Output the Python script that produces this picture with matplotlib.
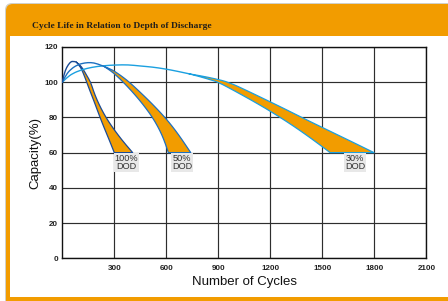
import numpy as np
import matplotlib
matplotlib.use('Agg')
import matplotlib.pyplot as plt
from matplotlib.patches import FancyBboxPatch, Rectangle, PathPatch
from matplotlib.path import Path

# Cycle life curves (cycles, capacity %)
# inner = left edge of each band, outer = right edge (starts on the inner curve)
dod100_inner_x = [0, 10, 25, 45, 60, 80, 100, 120, 141, 160, 180, 199, 218, 238, 259, 280, 300]
dod100_inner_y = [100, 104.5, 108.5, 111.3, 112, 111.5, 109.5, 105.5, 100, 95, 90, 85, 80, 75, 70, 65, 60]
dod100_outer_x = [80, 100, 120, 140, 164, 180, 200, 224, 252, 285, 322, 362, 406]
dod100_outer_y = [111.5, 110, 107.5, 104, 100, 95, 90, 85, 80, 75, 70, 65, 60]

dod50_inner_x = [0, 20, 50, 90, 130, 165, 200, 240, 280, 315, 352, 400, 444, 484, 520, 550, 575, 595, 612]
dod50_inner_y = [100, 104, 107.5, 110, 111, 111.2, 110.6, 109, 106.5, 103.5, 100, 95, 90, 85, 80, 75, 70, 65, 60]
dod50_outer_x = [240, 280, 320, 355, 387, 442, 495, 545, 592, 634, 672, 707, 741]
dod50_outer_y = [109, 107.5, 105, 102.5, 100, 95, 90, 85, 80, 75, 70, 65, 60]

dod30_inner_x = [0, 25, 60, 110, 170, 240, 310, 380, 450, 520, 590, 660, 730, 800, 860, 900,
                 995, 1087, 1175, 1257, 1335, 1408, 1478, 1545]
dod30_inner_y = [100, 102.5, 105, 107, 108.5, 109.4, 109.8, 109.9, 109.2, 108.6, 107.6, 106.3, 104.8,
                 103, 101.2, 100, 95, 90, 85, 80, 75, 70, 65, 60]
dod30_outer_x = [730, 800, 880, 960, 1070, 1175, 1280, 1381, 1485, 1590, 1695, 1798]
dod30_outer_y = [104.8, 103.6, 102, 100, 95, 90, 85, 80, 75, 70, 65, 60]

dod_labels = ['100%\nDOD', '50%\nDOD', '30%\nDOD']
label_x = [368, 691, 1688]

x_ticks = [300, 600, 900, 1200, 1500, 1800, 2100]
y_ticks = [0, 20, 40, 60, 80, 100, 120]

orange = '#f29c00'
band_colors = ['#1b4b96', '#1e70c0', '#1ba0e0']


def smooth_path(xs, ys):
    # quadratic bezier through midpoints, points act as control points
    pts = list(zip(xs, ys))
    verts = [pts[0]]
    codes = [Path.LINETO]
    for i in range(1, len(pts) - 1):
        mid = ((pts[i][0] + pts[i + 1][0]) / 2, (pts[i][1] + pts[i + 1][1]) / 2)
        if i == len(pts) - 2:
            mid = pts[-1]
        verts += [pts[i], mid]
        codes += [Path.CURVE3, Path.CURVE3]
    return verts, codes


fig = plt.figure(figsize=(4.48, 3.01), dpi=100)

# frame: grey shadow, orange bar and left/bottom strips, white panel
tr = fig.dpi_scale_trans
fig.patches.append(FancyBboxPatch((0.05, -0.2), 4.8, 3.18, boxstyle='round,pad=0,rounding_size=0.07',
                                  transform=tr, facecolor='#d0d0c8', edgecolor='none', zorder=-3))
fig.patches.append(FancyBboxPatch((0.06, -0.2), 4.8, 3.17, boxstyle='round,pad=0,rounding_size=0.07',
                                  transform=tr, facecolor=orange, edgecolor='none', zorder=-2))
fig.patches.append(Rectangle((0.10, 0.04), 4.6, 2.61, transform=tr,
                             facecolor='white', edgecolor='none', zorder=-1))
fig.text(0.32, 2.755, 'Cycle Life in Relation to Depth of Discharge', transform=tr,
         family='Liberation Serif', weight='bold', fontsize=6.8, color='#231f1a', va='center')

ax = fig.add_axes([0.139, 0.1419, 0.8127, 0.702])
ax.set_zorder(2)
ax.patch.set_alpha(0)
ax.set_xlim(0, 2100)
ax.set_ylim(0, 120)
ax.set_xticks(x_ticks)
ax.set_yticks(y_ticks)
ax.tick_params(length=0, labelsize=5.8, pad=3)
ax.tick_params(axis='x', pad=4.5)
for lab in ax.get_xticklabels() + ax.get_yticklabels():
    lab.set_family('Liberation Sans')
    lab.set_weight('bold')
    lab.set_color('#222222')
ax.grid(True, color='#2e2e2e', linewidth=0.85)
for s in ax.spines.values():
    s.set_color('#111111')
    s.set_linewidth(1.0)
ax.set_axisbelow(True)

ax.set_xlabel('Number of Cycles', family='Liberation Sans', fontsize=9.5, color='#111111', labelpad=3)
ax.set_ylabel('Capacity(%)', family='Liberation Sans', fontsize=9.5, color='#111111', labelpad=2)

bands = [
    (dod30_inner_x, dod30_inner_y, dod30_outer_x, dod30_outer_y, band_colors[2]),
    (dod50_inner_x, dod50_inner_y, dod50_outer_x, dod50_outer_y, band_colors[1]),
    (dod100_inner_x, dod100_inner_y, dod100_outer_x, dod100_outer_y, band_colors[0]),
]
for ix, iy, ox, oy, col in bands:
    k = ix.index(ox[0])
    v1, c1 = smooth_path(ix[k:], iy[k:])
    v2, c2 = smooth_path(ox[::-1], oy[::-1])
    c1[0] = Path.MOVETO
    verts = v1 + v2 + [v1[0]]
    codes = c1 + c2 + [Path.CLOSEPOLY]
    ax.add_patch(PathPatch(Path(verts, codes), facecolor=orange, edgecolor=col,
                           linewidth=0.9, joinstyle='round', zorder=3))
    v0, c0 = smooth_path(ix[:k + 1], iy[:k + 1])
    c0[0] = Path.MOVETO
    ax.add_patch(PathPatch(Path(v0, c0), facecolor='none', edgecolor=col,
                           linewidth=1.0, capstyle='round', zorder=4))

for txt, lx in zip(dod_labels, label_x):
    ax.text(lx, 59.3, txt, ha='center', va='top', fontsize=6.6, family='Liberation Sans',
            color='#333333', linespacing=0.85, zorder=5,
            bbox=dict(boxstyle='square,pad=0.08', facecolor='#e8e8e8', edgecolor='none'))

plt.savefig('out.png', dpi=100)
plt.close()
